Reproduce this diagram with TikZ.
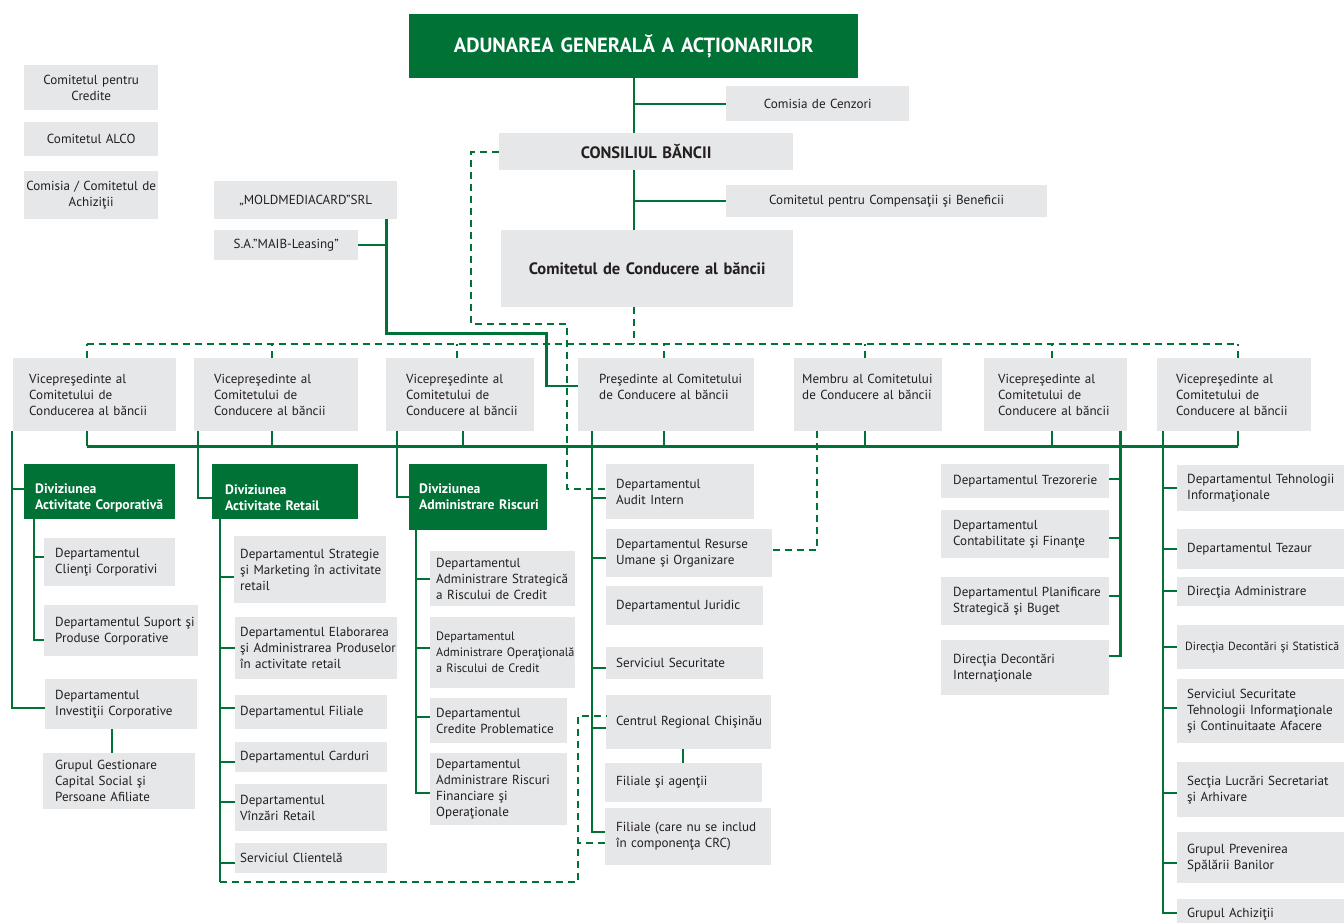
\documentclass[tikz,border=0pt]{standalone}
\usepackage{fontspec}
\setmainfont{PT Sans}
\usetikzlibrary{positioning}
\definecolor{mgreen}{RGB}{0,114,54}
\definecolor{boxgray}{RGB}{230,231,232}
\definecolor{txtgray}{RGB}{35,31,32}
\newcommand{\orgtxt}{\fontsize{13.1}{16}\selectfont}
\newcommand{\orgsmall}{\fontsize{12.2}{16}\selectfont}
\newcommand{\orgdiv}{\fontsize{13.7}{16}\selectfont\bfseries}
\newcommand{\orgbold}{\fontsize{16.5}{20}\selectfont\bfseries}
\newcommand{\orgbig}{\fontsize{20.5}{24}\selectfont\bfseries}

\begin{document}
\begin{tikzpicture}[x=1pt, y=-1pt,
  box/.style={fill=boxgray, text=txtgray, anchor=north west, inner sep=0pt,
    align=left, font=\orgtxt,
    execute at begin node={\leftskip=#1\rightskip=-40pt plus 1fil}},
  box/.default=10pt,
  cbox/.style={fill=boxgray, text=txtgray, anchor=north west, inner sep=0pt,
    align=center, font=\orgtxt,
    execute at begin node={\leftskip=-20pt plus 1fil\rightskip=-20pt plus 1fil}},
  gbox/.style={box=#1, fill=mgreen, text=white, font=\orgdiv},
  gbox/.default=11pt,
  ln/.style={draw=mgreen, line width=2.4pt},
  dln/.style={draw=mgreen, line width=2pt, dash pattern=on 7pt off 5pt}]
  \path[use as bounding box, fill=white] (0,0) rectangle (1344,922);

  % 上部
  \node[cbox, fill=mgreen, text=white, font=\orgbig, text width=449pt, minimum height=64pt] (aga) at (409,14) {ADUNAREA GENERALĂ A ACȚIONARILOR};
  \node[cbox, text width=183pt, minimum height=35pt] (cenz) at (726,86) {Comisia de Cenzori};
  \node[cbox, font=\orgbold, text width=294pt, minimum height=37pt] (cons) at (499,133) {CONSILIUL BĂNCII};
  \node[cbox, text width=321pt, minimum height=32pt] (comp) at (726,185) {Comitetul pentru Compensaţii şi Beneficii};
  \node[cbox, font=\orgbold, text width=292pt, minimum height=77pt] (ccb) at (501,230) {Comitetul de Conducere al băncii};

  \node[cbox, text width=134pt, minimum height=45pt] (kcred) at (24,65) {Comitetul pentru\\Credite};
  \node[cbox, text width=134pt, minimum height=34pt] (kalco) at (24,122) {Comitetul ALCO};
  \node[cbox, text width=134pt, minimum height=48pt] (kachiz) at (24,171) {Comisia / Comitetul de\\Achiziţii};
  \node[cbox, text width=183pt, minimum height=38pt] (moldm) at (214,181) {„MOLDMEDIACARD”SRL};
  \node[cbox, text width=144pt, minimum height=30pt] (leasing) at (214,230) {S.A.”MAIB-Leasing”};

  % 副議長
  \node[box=16pt, text width=163pt, minimum height=73pt] (vp1) at (13,358) {Vicepreşedinte al\\Comitetului de\\Conducerea al băncii};
  \node[box=20pt, text width=164pt, minimum height=73pt] (vp2) at (194,358) {Vicepreşedinte al\\Comitetului de\\Conducere al băncii};
  \node[box=20pt, text width=148pt, minimum height=73pt] (vp3) at (386,358) {Vicepreşedinte al\\Comitetului de\\Conducere al băncii};
  \node[box=21pt, text width=176pt, minimum height=73pt] (pres) at (578,358) {Preşedinte al Comitetului\\de Conducere al băncii\\\mbox{}};
  \node[box=8pt, text width=148pt, minimum height=73pt] (memb) at (794,358) {Membru al Comitetului\\de Conducere al băncii\\\mbox{}};
  \node[box=14pt, text width=143pt, minimum height=73pt] (vp5) at (984,358) {Vicepreşedinte al\\Comitetului de\\Conducere al băncii};
  \node[box=19pt, text width=154pt, minimum height=73pt] (vp6) at (1157,358) {Vicepreşedinte al\\Comitetului de\\Conducere al băncii};

  % 法人部門
  \node[gbox=11pt, text width=151pt, minimum height=55pt, text height=22pt] (divc) at (24,464) {Diviziunea\\Activitate Corporativă};
  \node[box=11pt, text width=131pt, minimum height=48pt] (clcorp) at (44,538) {Departamentul\\Clienţi Corporativi};
  \node[box=11pt, text width=154pt, minimum height=51pt] (supcorp) at (44,605) {Departamentul Suport şi\\Produse Corporative};
  \node[box=10pt, text width=152pt, minimum height=50pt] (invcorp) at (45,679) {Departamentul\\Investiţii Corporative};
  \node[box=12pt, text width=152pt, minimum height=56pt] (gestcap) at (43,753) {Grupul Gestionare\\Capital Social şi\\Persoane Afiliate};

  % リテール部門
  \node[gbox=13pt, text width=146pt, minimum height=55pt, text height=22pt] (divr) at (212,464) {Diviziunea\\Activitate Retail};
  \node[box=6pt, text width=152pt, minimum height=67pt] (strat) at (234,536) {Departamentul Strategie\\şi Marketing în activitate\\retail};
  \node[box=5pt, text width=162pt, minimum height=62pt] (elab) at (235,617) {Departamentul Elaborarea\\şi Administrarea Produselor\\în activitate retail};
  \node[box=5pt, text width=152pt, minimum height=34pt] (rfil) at (235,695) {Departamentul Filiale};
  \node[box=5pt, text width=152pt, minimum height=30pt] (card) at (235,742) {Departamentul Carduri};
  \node[box=5pt, text width=152pt, minimum height=47pt] (vinz) at (235,784) {Departamentul\\Vînzări Retail};
  \node[box=5pt, text width=152pt, minimum height=30pt] (cli) at (235,843) {Serviciul Clientelă};

  % リスク部門
  \node[gbox=10pt, text width=138pt, minimum height=66pt] (divk) at (409,464) {Diviziunea\\Administrare Riscuri};
  \node[box=6pt, text width=145pt, minimum height=55pt] (strcr) at (430,551) {Departamentul\\Administrare Strategică\\a Riscului de Credit};
  \node[box=6pt, font=\orgsmall, text width=145pt, minimum height=71pt] (opcr) at (430,617) {Departamentul\\Administrare Operaţională\\a Riscului de Credit};
  \node[box=6pt, text width=137pt, minimum height=45pt] (cprob) at (430,698) {Departamentul\\Credite Problematice};
  \node[box=6pt, text width=137pt, minimum height=72pt] (rfin) at (430,753) {Departamentul\\Administrare Riscuri\\Financiare şi\\Operaţionale};

  % 議長の下
  \node[box, text width=148pt, minimum height=55pt] (audit) at (606,464) {Departamentul\\Audit Intern};
  \node[box, text width=166pt, minimum height=48pt] (resurse) at (606,529) {Departamentul Resurse\\Umane şi Organizare};
  \node[box, text width=157pt, minimum height=39pt] (jurid) at (606,586) {Departamentul Juridic};
  \node[box, text width=157pt, minimum height=32pt] (secur) at (606,647) {Serviciul Securitate};
  \node[box, text width=165pt, minimum height=54pt] (crc) at (606,695) {Centrul Regional Chişinău};
  \node[box=11pt, text width=157pt, minimum height=39pt] (filag) at (605,763) {Filiale şi agenţii};
  \node[box=11pt, text width=166pt, minimum height=57pt] (filcrc) at (605,808) {Filiale (care nu se includ\\în componenţa CRC)};

  % 財務
  \node[box=12pt, text width=168pt, minimum height=34pt] (trez) at (941,464) {Departamentul Trezorerie};
  \node[box=12pt, text width=168pt, minimum height=48pt] (contab) at (941,510) {Departamentul\\Contabilitate şi Finanţe};
  \node[box=12pt, text width=168pt, minimum height=48pt] (plan) at (941,577) {Departamentul Planificare\\Strategică şi Buget};
  \node[box=12pt, text width=168pt, minimum height=55pt] (ddi) at (941,640) {Direcţia Decontări\\Internaţionale};

  % 右列
  \node[box, text width=200pt, minimum height=46pt] (ti) at (1177,465) {Departamentul Tehnologii\\Informaţionale};
  \node[box, text width=200pt, minimum height=40pt] (tez) at (1177,529) {Departamentul Tezaur};
  \node[box, text width=200pt, minimum height=29pt] (dadm) at (1177,577) {Direcţia Administrare};
  \node[box=8pt, font=\fontsize{11.8}{16}\selectfont, text width=200pt, minimum height=44pt] (dds) at (1177,625) {Direcţia Decontări şi Statistică};
  \node[box, text width=200pt, minimum height=64pt] (sti) at (1177,679) {Serviciul Securitate\\Tehnologii Informaţionale\\şi Continuitaate Afacere};
  \node[box, text width=200pt, minimum height=55pt] (sect) at (1177,762) {Secţia Lucrări Secretariat\\şi Arhivare};
  \node[box, text width=200pt, minimum height=51pt] (gpsb) at (1177,832) {Grupul Prevenirea\\Spălării Banilor};
  \node[box, text width=200pt, minimum height=30pt] (gach) at (1177,899) {Grupul Achiziţii};

  % 接続線（上部）
  \draw[ln] (aga.south) -- (aga.south |- cons.north);
  \draw[ln] (aga.south |- cenz.west) -- (cenz.west);
  \draw[ln] (aga.south |- cons.south) -- (aga.south |- ccb.north);
  \draw[ln] (aga.south |- comp.west) -- (comp.west);
  \draw[dln] (aga.south |- ccb.south) -- ++(0,37);
  \draw[dln] ([shift={(-8,-14)}]vp1.north) -- ([shift={(4,-14)}]vp6.north);
  \foreach \n/\d in {vp1/-8, vp2/-4, vp3/-3, pres/-2, memb/-3, vp5/-4, vp6/4}
    \draw[dln] ([xshift=\d pt]\n.north) -- ++(0,-14);
  \draw[ln] ([shift={(-8,15)}]vp1.south) -- ([shift={(4,15)}]vp6.south);
  \foreach \n/\d in {vp1/-8, vp2/-4, vp3/3, pres/-2, memb/-3, vp5/-4, vp6/4}
    \draw[ln] ([xshift=\d pt]\n.south) -- ++(0,15);

  % 子会社
  \coordinate (mv) at ([xshift=-11pt]moldm.south east);
  \draw[ln] (mv) -- ++(0,114) -- ++(160,0) |- ([yshift=9pt]pres.west);
  \draw[ln] (leasing.east) -| (mv);
  \draw[dln] (cons.west) -- ++(-28,0) -- ++(0,172) -- ++(96,0) |- ([yshift=3pt]audit.west);
  \draw[dln] ([xshift=23pt]memb.south west) |- ([yshift=3pt]resurse.east);

  % 法人
  \coordinate (l1) at ([xshift=-1pt]vp1.south west);
  \draw[ln] (l1) |- ([yshift=-4pt]invcorp.west);
  \draw[ln] ([yshift=3pt]divc.west) -| (l1);
  \coordinate (l1c) at ([xshift=10pt]divc.south west);
  \draw[ln] (l1c) |- ([yshift=-9.5pt]supcorp.west);
  \draw[ln] ([yshift=5pt]clcorp.west) -| (l1c);
  \coordinate (ic) at ([xshift=-9pt]invcorp.south);
  \draw[ln] (ic) -- (ic |- gestcap.north);

  % リテール
  \coordinate (l2) at ([xshift=4pt]vp2.south west);
  \draw[ln] (l2) |- ([yshift=-6pt]divr.west);
  \coordinate (l2r) at ([xshift=8pt]divr.south west);
  \draw[ln] (l2r) -- ++(0,363) coordinate (rb);
  \foreach \n/\d in {strat/-7.5, elab/0, rfil/4, card/-5, vinz/5.5, cli/-5}
    \draw[ln] ([yshift=\d pt]\n.west) -| (l2r);
  \draw[dln] (rb) -- ++(358,0) |- ([yshift=6pt]crc.west);
  \draw[dln] ([yshift=-6.5pt]filcrc.west) -- ++(-27,0);

  % リスク
  \coordinate (l3) at ([xshift=11pt]vp3.south west);
  \draw[ln] (l3) |- (divk.west);
  \coordinate (l3r) at ([xshift=7pt]divk.south west);
  \draw[ln] (l3r) |- ([yshift=-4pt]rfin.west);
  \foreach \n/\d in {strcr/0, opcr/5, cprob/4}
    \draw[ln] ([yshift=\d pt]\n.west) -| (l3r);

  % 議長
  \coordinate (l4) at ([xshift=14pt]pres.south west);
  \draw[ln] (l4) |- ([yshift=4.5pt]filcrc.west);
  \foreach \n/\d in {audit/-6.5, resurse/-5, secur/-5, crc/-6}
    \draw[ln] ([yshift=\d pt]\n.west) -| (l4);
  \coordinate (cf) at ([xshift=-5.5pt]crc.south);
  \draw[ln] (cf) -- (cf |- filag.north);

  % 財務
  \coordinate (l5) at ([xshift=-7pt]vp5.south east);
  \draw[ln] (l5) |- ([yshift=11.5pt]ddi.east);
  \foreach \n/\d in {trez/2, contab/-4, plan/5}
    \draw[ln] ([yshift=\d pt]\n.east) -| (l5);

  % 右列
  \coordinate (l6) at ([xshift=6pt]vp6.south west);
  \draw[ln] (l6) |- ([yshift=1pt]gach.west);
  \foreach \n/\d in {ti/0, tez/0, dadm/1, dds/0, sti/3, sect/-3.5, gpsb/-5.5}
    \draw[ln] ([yshift=\d pt]\n.west) -| (l6);
\end{tikzpicture}
\end{document}
